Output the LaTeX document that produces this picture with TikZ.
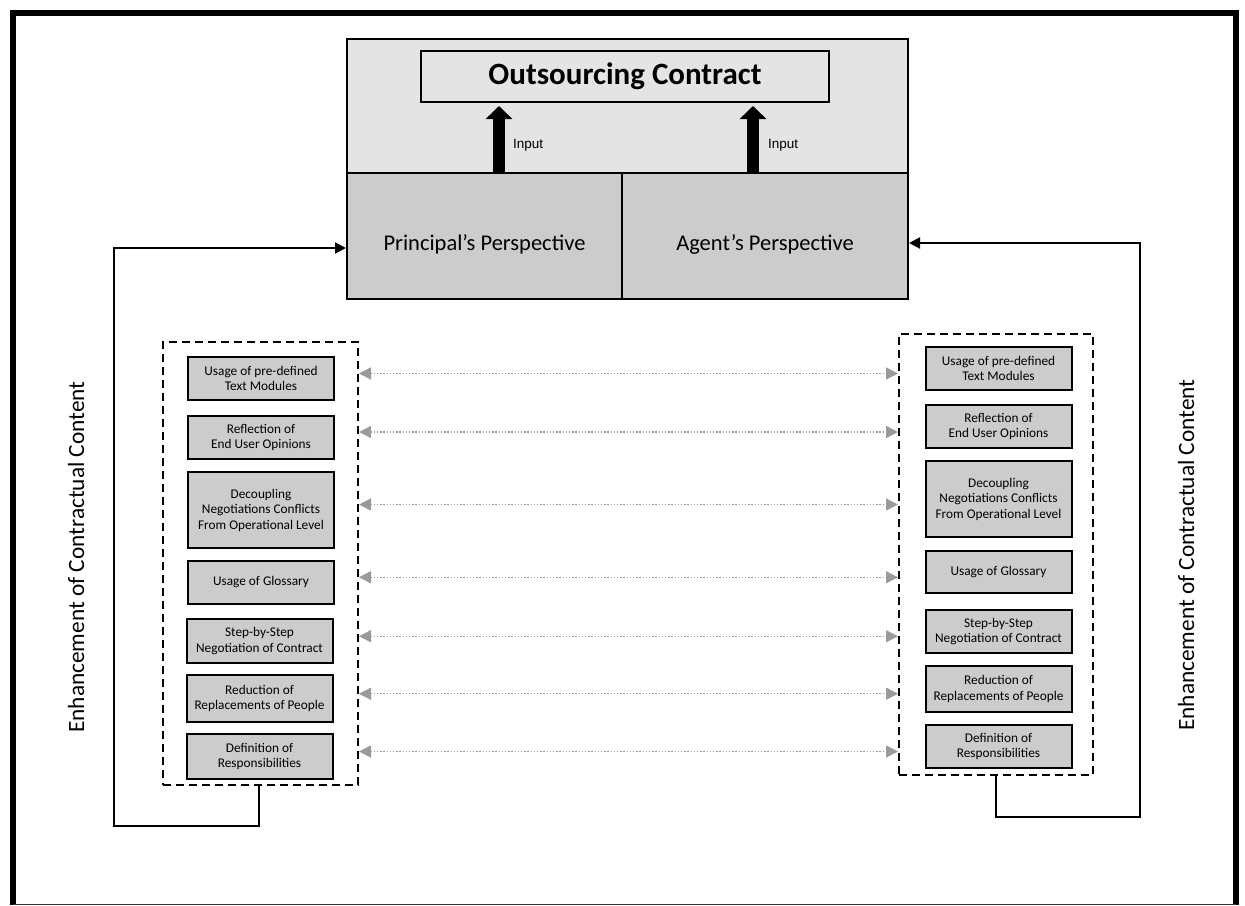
\documentclass[tikz,border=0pt]{standalone}
\usepackage{fontspec}
\setmainfont{Carlito}
\newfontfamily\arialfont{Liberation Sans}
\usetikzlibrary{arrows.meta,calc}
\definecolor{panel}{HTML}{E4E4E4}
\definecolor{boxgray}{HTML}{CCCCCC}
\definecolor{linkgray}{HTML}{9A9A9A}

\begin{document}
\begin{tikzpicture}[x=1pt,y=-1pt,
  measure/.style={draw=black,line width=2pt,fill=boxgray,minimum width=146pt,
    minimum height=43pt,inner sep=0pt,align=center,
    font=\fontsize{13.3}{15.5}\selectfont},
  group/.style={draw=black,line width=2pt,dash pattern=on 8pt off 5pt,inner sep=0pt},
  persp/.style={draw=black,line width=2pt,fill=boxgray,inner sep=0pt,
    minimum height=126pt,text height=28pt,text depth=0pt,
    font=\fontsize{22.5}{27}\selectfont},
  link/.style={draw=linkgray,line width=1.4pt,dash pattern=on 1.4pt off 1.8pt,
    {Triangle[width=12pt,length=12pt,fill=linkgray]}-{Triangle[width=12pt,length=12pt,fill=linkgray]}},
  feedback/.style={draw=black,line width=2pt,-{Triangle[width=11pt,length=11pt]}},
  input/.style={draw=black,line width=12pt,-{Triangle[width=26pt,length=13pt]}},
  sidetext/.style={rotate=90,font=\fontsize{23.3}{28}\selectfont},
  inputlabel/.style={anchor=west,inner sep=0pt,font=\arialfont\fontsize{13.5}{16}\selectfont}
]
\useasboundingbox (0,0) rectangle (1245,905);

% outer frame
\draw[line width=6pt] (13,905) -- (13,13) -- (1236,13) -- (1236,905);
\draw[line width=1pt,black!80] (13,904) -- (1236,904);

% contract panel and the two perspectives
\node[draw=black,line width=2pt,fill=panel,minimum width=561pt,minimum height=134pt,inner sep=0pt]
  (panel) at (627.5,106) {};
\node[persp,minimum width=275pt] (pp) at (484.5,236) {Principal’s Perspective};
\node[persp,minimum width=286pt] (ap) at (765,236) {Agent’s Perspective};
\node[draw=black,line width=2pt,fill=panel,minimum width=408pt,minimum height=51pt,inner sep=0pt,
  font=\fontsize{31}{37}\selectfont\bfseries] (contract) at (625,76.5) {Outsourcing Contract};

% input arrows
\coordinate (inA) at (499,0);
\coordinate (inB) at (753,0);
\draw[input,shorten >=3pt] (pp.north -| inA) -- (contract.south -| inA);
\draw[input,shorten >=3pt] (ap.north -| inB) -- (contract.south -| inB);
\node[inputlabel] (labA) at (513,145) {Input};
\node[inputlabel] (labB) at (768,145) {Input};

% dashed groups
\node[group,minimum width=195pt,minimum height=443pt] (ldash) at (260.5,563.5) {};
\node[group,minimum width=194pt,minimum height=441pt] (rdash) at (996,554.5) {};

% principal side measures
\node[measure] (l1) at (261,378.5) {Usage of pre-defined\\Text Modules};
\node[measure] (l2) at (261,437.5) {Reflection of\\End User Opinions};
\node[measure,minimum height=76pt] (l3) at (261,510) {Decoupling\\Negotiations Conflicts\\From Operational Level};
\node[measure] (l4) at (261,582.5) {Usage of Glossary};
\node[measure,minimum height=44pt] (l5) at (259.5,641) {Step-by-Step\\Negotiation of Contract};
\node[measure,minimum height=47pt] (l6) at (259.5,698.5) {Reduction of\\Replacements of People};
\node[measure,minimum height=45pt] (l7) at (259.5,756.5) {Definition of\\Responsibilities};

% agent side measures
\node[measure] (r1) at (998.5,368.5) {Usage of pre-defined\\Text Modules};
\node[measure] (r2) at (998.5,426.5) {Reflection of\\End User Opinions};
\node[measure,minimum height=76pt] (r3) at (998.5,499) {Decoupling\\Negotiations Conflicts\\From Operational Level};
\node[measure,minimum height=42pt] (r4) at (998.5,572) {Usage of Glossary};
\node[measure] (r5) at (998.5,631.5) {Step-by-Step\\Negotiation of Contract};
\node[measure,minimum height=46pt] (r6) at (998.5,689) {Reduction of\\Replacements of People};
\node[measure] (r7) at (998.5,746.5) {Definition of\\Responsibilities};

% correspondences between the two sides
\foreach \i in {1,...,7}{
  \coordinate (m\i) at ($(l\i)!0.5!(r\i)$);
  \draw[link] (ldash.east |- m\i) -- (rdash.west |- m\i);
}

% feedback loops
\coordinate (lfoot) at (259,0);
\coordinate (lcorner) at (114,826);
\coordinate (lrise) at (114,248);
\draw[feedback] (ldash.south -| lfoot) |- (lcorner) -- (lrise) -- (pp.west |- lrise);

\coordinate (rfoot) at (996,0);
\coordinate (rcorner) at (1140,817);
\coordinate (rrise) at (1140,243);
\draw[feedback] (rdash.south -| rfoot) |- (rcorner) -- (rrise) -- (ap.east |- rrise);

% side captions
\node[sidetext] (capL) at (76,557) {Enhancement of Contractual Content};
\node[sidetext] (capR) at (1186,555) {Enhancement of Contractual Content};
\end{tikzpicture}
\end{document}
